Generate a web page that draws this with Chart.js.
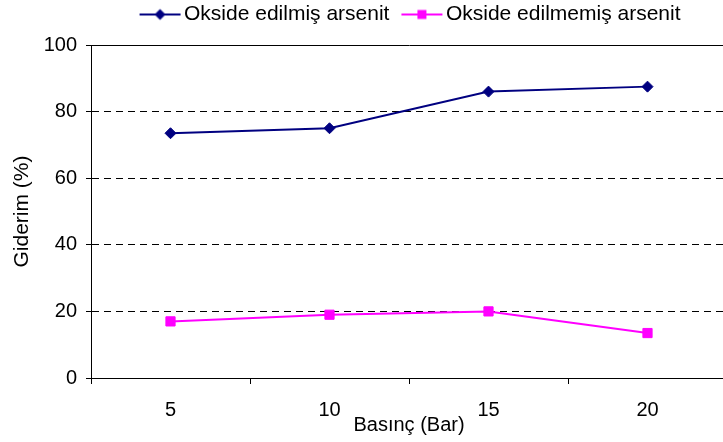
<!DOCTYPE html>
<html>
<head>
<meta charset="utf-8">
<script src="https://cdn.jsdelivr.net/npm/chart.js@4/dist/chart.umd.min.js"></script>
<style>
  html, body { margin: 0; padding: 0; background: #fff; overflow: hidden; }
  #wrap { width: 737px; height: 442px; }
</style>
</head>
<body>
<div id="wrap"><canvas id="c" width="737" height="442"></canvas></div>
<script>
// Pressure levels (Bar) on the category axis
const pressures = ['5', '10', '15', '20'];
// Removal efficiency (%) for each arsenic form
const oxidizedRemoval = [73.5, 75, 86, 87.5];
const nonOxidizedRemoval = [17, 19, 20, 13.5];
// Y axis range and step
const yMin = 0, yMax = 100, yStep = 20;

const seriesNames = ['Okside edilmiş arsenit', 'Okside edilmemiş arsenit'];
const seriesColors = ['#000080', '#FF00FF'];
const FONT = "Arial, 'Liberation Sans', sans-serif";

// Legend glyphs: short line with the series marker in the middle
// (left part of the image is transparent so the glyph sits close to its text)
function makeGlyph(color, shape) {
  const g = document.createElement('canvas');
  g.width = 56; g.height = 14;
  const x = g.getContext('2d');
  x.strokeStyle = color; x.lineWidth = 2;
  x.beginPath(); x.moveTo(12, 7); x.lineTo(53, 7); x.stroke();
  x.fillStyle = color;
  x.beginPath();
  if (shape === 'diamond') {
    x.moveTo(32.5, 1.5); x.lineTo(38, 7); x.lineTo(32.5, 12.5); x.lineTo(27, 7);
  } else {
    x.rect(28, 2.5, 9, 9);
  }
  x.closePath(); x.fill();
  return g;
}
const legendGlyphs = [makeGlyph(seriesColors[0], 'diamond'), makeGlyph(seriesColors[1], 'square')];

// Keep a fixed band above the plot for the legend row
const legendBand = {
  id: 'legendBand',
  afterInit(chart) {
    const lg = chart.legend;
    if (!lg) return;
    const fit = lg.fit.bind(lg);
    lg.fit = function () { fit(); this.height = 51; };
  }
};

new Chart(document.getElementById('c'), {
  type: 'line',
  data: {
    labels: pressures,
    datasets: [
      {
        label: seriesNames[0],
        data: oxidizedRemoval,
        borderColor: seriesColors[0],
        backgroundColor: seriesColors[0],
        borderWidth: 2,
        pointStyle: 'rectRot',
        pointRadius: 5.5,
        pointBorderWidth: 1,
        tension: 0,
        fill: false
      },
      {
        label: seriesNames[1],
        data: nonOxidizedRemoval,
        borderColor: seriesColors[1],
        backgroundColor: seriesColors[1],
        borderWidth: 2,
        pointStyle: 'rect',
        pointRadius: 6.5,
        pointBorderWidth: 1,
        tension: 0,
        fill: false
      }
    ]
  },
  options: {
    responsive: false,
    animation: false,
    devicePixelRatio: 1,
    layout: { padding: { left: 0, right: 10, top: -6, bottom: 0 } },
    plugins: {
      legend: {
        position: 'top',
        align: 'center',
        fullSize: false,
        labels: {
          usePointStyle: true,
          pointStyleWidth: 36,
          padding: 10,
          color: '#000',
          font: { family: FONT, size: 21 },
          generateLabels(chart) {
            return Chart.defaults.plugins.legend.labels.generateLabels(chart)
              .map((item, i) => Object.assign(item, { pointStyle: legendGlyphs[i] }));
          }
        }
      },
      tooltip: { enabled: false }
    },
    scales: {
      x: {
        type: 'category',
        position: 'bottom',
        offset: true,
        afterFit(scale) { scale.height = 64; },
        grid: {
          offset: true,
          drawOnChartArea: false,
          drawTicks: true,
          tickLength: 6,
          tickColor: '#000',
          tickBorderDash: []
        },
        border: { display: true, color: '#000', width: 1 },
        ticks: {
          color: '#000',
          font: { family: FONT, size: 20 },
          padding: 14,
          maxRotation: 0,
          autoSkip: false
        },
        title: {
          display: true,
          text: 'Basınç (Bar)',
          color: '#000',
          font: { family: FONT, size: 20 },
          padding: { top: 0, bottom: 5 }
        }
      },
      y: {
        type: 'linear',
        min: yMin,
        max: yMax,
        afterFit(scale) { scale.width = 91; },
        ticks: {
          stepSize: yStep,
          color: '#000',
          font: { family: FONT, size: 20 },
          padding: 9
        },
        grid: {
          color: '#000',
          lineWidth: 1,
          drawTicks: true,
          tickLength: 5,
          tickColor: '#000',
          tickBorderDash: []
        },
        border: {
          display: true,
          color: '#000',
          width: 1,
          dash: (ctx) => (ctx.tick && ctx.tick.value === yMax) ? [] : [7, 5]
        },
        title: {
          display: true,
          text: 'Giderim (%)',
          color: '#000',
          font: { family: FONT, size: 21 },
          padding: { top: 10, bottom: 0 }
        }
      }
    }
  },
  plugins: [legendBand]
});
</script>
</body>
</html>
